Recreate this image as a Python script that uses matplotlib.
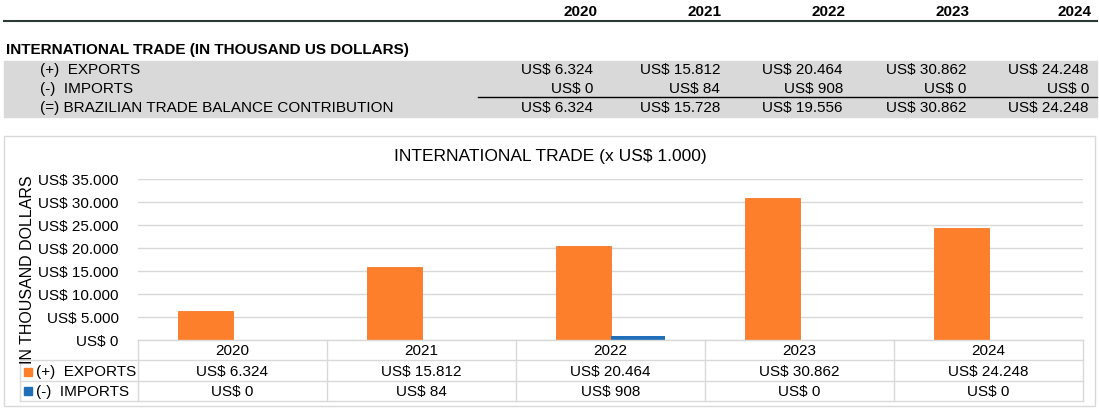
import matplotlib
matplotlib.use("Agg")
import matplotlib.pyplot as plt
from matplotlib.lines import Line2D
from matplotlib.patches import Rectangle

years = ["2020", "2021", "2022", "2023", "2024"]
exports = [6324, 15812, 20464, 30862, 24248]
imports = [0, 84, 908, 0, 0]
balance = [6324, 15728, 19556, 30862, 24248]
yticks = [0, 5000, 10000, 15000, 20000, 25000, 30000, 35000]

def fmt(v):
    return "US$ " + f"{v:,}".replace(",", ".")

W, H = 1099, 410
fig = plt.figure(figsize=(W/100, H/100), dpi=100)
plt.rcParams["font.family"] = "Liberation Sans"

def fx(x): return x / W
def fy(y): return 1 - y / H
def txt(x, y, s, **kw):
    fig.text(fx(x), fy(y), s, va="center", **kw)
def hline(x0, x1, y, c="black", lw=1):
    fig.add_artist(Line2D([fx(x0), fx(x1)], [fy(y), fy(y)], color=c, lw=lw))
def vline(x, y0, y1, c="#d9d9d9", lw=1):
    fig.add_artist(Line2D([fx(x), fx(x)], [fy(y0), fy(y1)], color=c, lw=lw))

# top table
col_r = [597, 722, 846, 970, 1092]
for x, yv in zip(col_r, years):
    txt(x, 12, yv, ha="right", fontsize=11, fontweight="bold")
hline(4, 1097, 22, c="#2b3a36", lw=1.5)
txt(6, 50, "INTERNATIONAL TRADE (IN THOUSAND US DOLLARS)", ha="left", fontsize=11, fontweight="bold")
fig.add_artist(Rectangle((fx(4), fy(118)), fx(1093), 56/H, color="#d9d9d9", zorder=0))
vals_r = [593, 720, 843, 966, 1089]
rows = [("(+)  EXPORTS", exports, 70), ("(-)  IMPORTS", imports, 89),
        ("(=) BRAZILIAN TRADE BALANCE CONTRIBUTION", balance, 108)]
for lab, vals, y in rows:
    txt(40, y, lab, ha="left", fontsize=11)
    for x, v in zip(vals_r, vals):
        txt(x, y, fmt(v), ha="right", fontsize=11)
hline(478, 1097, 98, lw=1)

# chart box
fig.add_artist(Rectangle((fx(4), fy(407)), fx(1091), 270/H, fill=False, ec="#d9d9d9", lw=1))
txt(550, 157, "INTERNATIONAL TRADE (x US$ 1.000)", ha="center", fontsize=12.5)

ax = fig.add_axes([fx(138), fy(341), fx(1083-138), (341-180)/H])
import numpy as np
x = np.arange(len(years))
bw = 0.29
ax.bar(x - bw/2, exports, bw, color="#fd7f2c", edgecolor="#f26a12", lw=0.5, zorder=3)
ax.bar(x + bw/2, imports, bw, color="#1f6fb8", zorder=3)
ax.set_xlim(-0.5, len(years) - 0.5)
ax.set_ylim(0, 35000)
ax.set_yticks(yticks)
ax.set_yticklabels([fmt(v) for v in yticks], fontsize=11)
ax.set_xticks([])
ax.grid(axis="y", color="#d9d9d9", lw=1, zorder=0)
for s in ax.spines.values():
    s.set_visible(False)
ax.tick_params(axis="y", length=0, pad=14)
fig.text(fx(28), fy(270), "IN THOUSAND DOLLARS", rotation=90, ha="center", va="center", fontsize=11.5)

# data table
cols = [138, 327, 516, 705, 894, 1083]
for y in [341, 361, 382, 402]:
    hline(138 if y == 341 else 20, 1083, y, c="#d9d9d9")
vline(20, 361, 402)
for c in cols:
    vline(c, 341, 402)
for i, yv in enumerate(years):
    cx = (cols[i] + cols[i+1]) / 2
    txt(cx, 351, yv, ha="center", fontsize=11)
    txt(cx, 372, fmt(exports[i]), ha="center", fontsize=11)
    txt(cx, 392, fmt(imports[i]), ha="center", fontsize=11)
fig.add_artist(Rectangle((fx(24), fy(377)), 8/W, 8/H, color="#fd7f2c"))
fig.add_artist(Rectangle((fx(24), fy(396)), 8/W, 8/H, color="#1f6fb8"))
txt(36, 372, "(+)  EXPORTS", ha="left", fontsize=11)
txt(36, 392, "(-)  IMPORTS", ha="left", fontsize=11)

fig.savefig("out.png", dpi=100)
